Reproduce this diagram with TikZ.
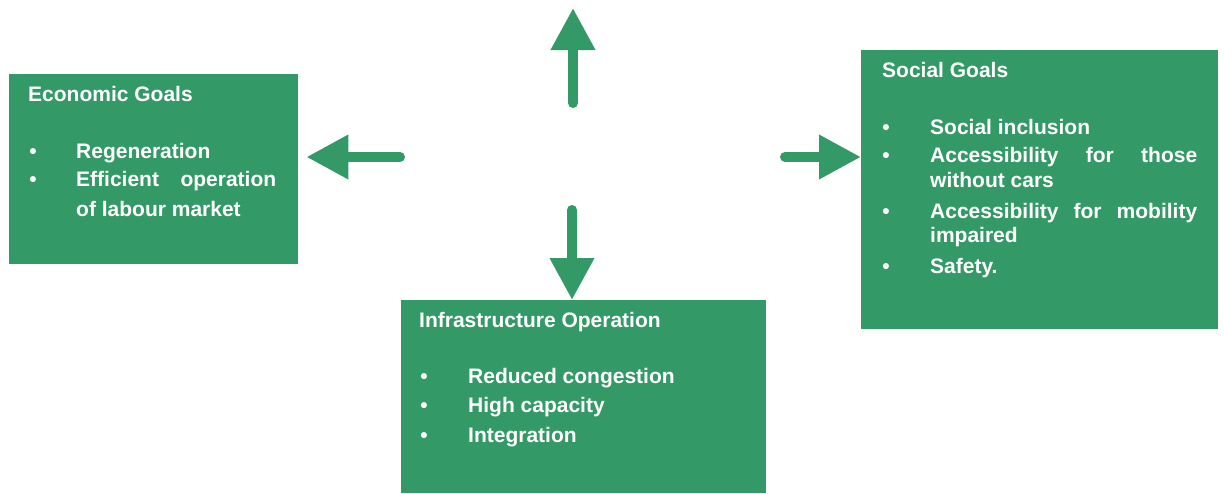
\documentclass[tikz,border=0pt]{standalone}
\usepackage{fontspec}
\setmainfont{Liberation Sans}
\usetikzlibrary{arrows.meta}
\definecolor{goalgreen}{RGB}{51,153,102}
\begin{document}
\begin{tikzpicture}[x=1pt,y=-1pt,
  panel/.style={fill=goalgreen, draw=none, anchor=north west, inner sep=0pt},
  txt/.style={anchor=base west, inner sep=0pt, text=white,
    font=\fontsize{21}{25}\selectfont\bfseries},
  bul/.style={anchor=base, inner sep=0pt, text=white,
    font=\fontsize{21}{25}\selectfont\bfseries},
  flow/.style={goalgreen, line width=10pt, line cap=round,
    -{Triangle[length=42pt,width=42pt]}}]

\useasboundingbox (0,0) rectangle (1224,493);

% panels
\node[panel, minimum width=289pt, minimum height=190pt] (eco) at (9,74) {};
\node[panel, minimum width=357pt, minimum height=279pt] (soc) at (861,50) {};
\node[panel, minimum width=365pt, minimum height=193pt] (inf) at (401,300) {};

% economic goals
\node[txt] (ecoT) at (28,101) {Economic Goals};
\node[bul] (ecoB1) at (33,158) {•};
\node[txt] (ecoL1) at (76,158) {Regeneration};
\node[bul] (ecoB2) at (33,186) {•};
\node[txt] (ecoL2) at (76,186) {\makebox[200pt][s]{Efficient operation}};
\node[txt] (ecoL3) at (76,216) {of labour market};

% social goals
\node[txt] (socT) at (882,77) {Social Goals};
\node[bul] (socB1) at (886,134) {•};
\node[txt] (socL1) at (930,134) {Social inclusion};
\node[bul] (socB2) at (886,162) {•};
\node[txt] (socL2) at (930,162) {\makebox[267pt][s]{Accessibility for those}};
\node[txt] (socL3) at (930,187) {without cars};
\node[bul] (socB3) at (886,218) {•};
\node[txt] (socL4) at (930,218) {\makebox[267pt][s]{Accessibility for mobility}};
\node[txt] (socL5) at (930,242) {impaired};
\node[bul] (socB4) at (886,273) {•};
\node[txt] (socL6) at (930,273) {Safety.};

% infrastructure operation
\node[txt] (infT) at (419,327) {Infrastructure Operation};
\node[bul] (infB1) at (424,383) {•};
\node[txt] (infL1) at (468,383) {Reduced congestion};
\node[bul] (infB2) at (424,412) {•};
\node[txt] (infL2) at (468,412) {High capacity};
\node[bul] (infB3) at (424,442) {•};
\node[txt] (infL3) at (468,442) {Integration};

% arrows radiating from the centre
\coordinate (upTail) at (573,103);
\coordinate (upHead) at (573,8);
\coordinate (leftTail) at (400,157);
\coordinate (rightTail) at (785,157);
\coordinate (downTail) at (572,210);

\draw[flow] (upTail) -- (upHead);
\draw[flow, shorten >=8pt] (leftTail) -- (leftTail -| eco.east);
\draw[flow] (rightTail) -- (rightTail -| soc.west);
\draw[flow] (downTail) -- (downTail |- inf.north);
\end{tikzpicture}
\end{document}
